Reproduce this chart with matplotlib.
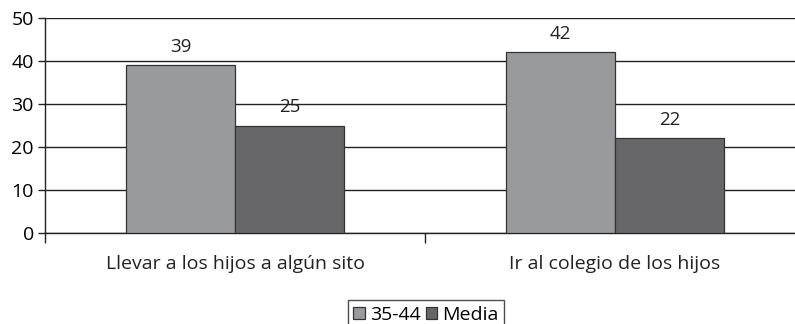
import matplotlib
matplotlib.use("Agg")
import matplotlib.pyplot as plt
import numpy as np

categories = ["Llevar a los hijos a algún sito", "Ir al colegio de los hijos"]
series_names = ["35-44", "Media"]
values_3544 = [39, 42]
values_media = [25, 22]
yticks = [0, 10, 20, 30, 40, 50]

plt.rcParams['font.family'] = ['Open Sans', 'DejaVu Sans']

fig = plt.figure(figsize=(7.95, 3.24), dpi=100)
ax = fig.add_axes([45/795, 1 - 233/324, 760/795, 215/324])

x = np.arange(len(categories))
w = 0.287
colors = ["#999a9c", "#676769"]
b1 = ax.bar(x - w/2, values_3544, w, color=colors[0], edgecolor="#333333", linewidth=0.9, zorder=3, label=series_names[0])
b2 = ax.bar(x + w/2, values_media, w, color=colors[1], edgecolor="#333333", linewidth=0.9, zorder=3, label=series_names[1])
for bars, vals in ((b1, values_3544), (b2, values_media)):
    for r, v in zip(bars, vals):
        ax.text(r.get_x() + r.get_width()/2, v + 2.2, f"{v}", ha="center", va="bottom", fontsize=13.5, color="#222222")

ax.set_xlim(-0.5, len(categories) - 0.5)
ax.set_ylim(0, 50)
ax.set_yticks(yticks)
ax.yaxis.grid(True, color="#222222", linewidth=1.0, zorder=0)
ax.set_axisbelow(True)
for s in ["top", "right"]:
    ax.spines[s].set_visible(False)
for s in ["left", "bottom"]:
    ax.spines[s].set_color("#222222")
    ax.spines[s].set_linewidth(1.0)

ax.set_xticks([-0.5, 0.5, 1.5], minor=True)
ax.set_xticks(x)
ax.set_xticklabels(categories, fontsize=14)
ax.tick_params(axis="x", which="major", length=0, pad=16, colors="#222222")
ax.tick_params(axis="x", which="minor", length=7, width=1.0, color="#222222")
ax.tick_params(axis="y", length=5, width=1.0, color="#222222", labelsize=14, pad=3)

leg = fig.legend(handles=[b1, b2], labels=series_names, loc="upper center",
                 bbox_to_anchor=(426/795, 1 - 290/324), ncol=2, frameon=True,
                 fontsize=14, handlelength=0.6, handleheight=0.6, handletextpad=0.25,
                 columnspacing=0.25, borderpad=0.3, fancybox=False, edgecolor="#222222")
leg.get_frame().set_linewidth(1.0)

fig.savefig("out.png", dpi=100)
